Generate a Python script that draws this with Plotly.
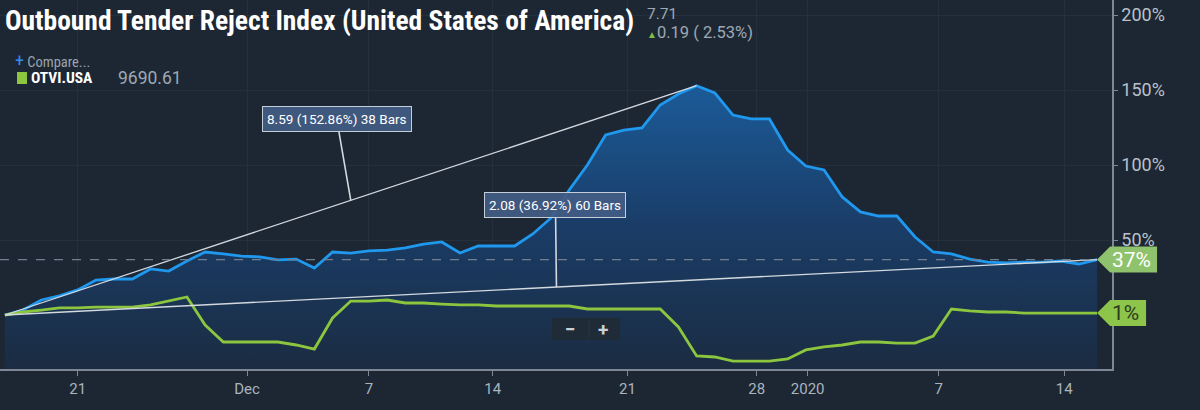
import plotly.graph_objects as go

# Percent change of the index vs. the first bar (one value per bar)
bars = list(range(61))
otvi_pct = [0, 3.3, 10, 12.7, 16.7, 23.3, 24, 24, 30.7, 29.3, 36, 42, 40.7, 39.3, 38.7,
            36.7, 37.3, 31.3, 42, 41.3, 42.7, 43.3, 44.7, 47.3, 48.7, 41.3, 46, 46, 46,
            54, 64.7, 83.3, 100, 120, 123.3, 124.7, 140, 147.3, 152.86, 148, 133.3,
            130.7, 130.7, 110, 99.3, 96.7, 78.7, 68.7, 66, 66, 52, 42, 40.7, 37.3, 35.3,
            34.7, 35.3, 35.3, 36, 34, 36.92]
compare_pct = [0, 2, 3.3, 4.7, 4.7, 5.3, 5.3, 5.3, 6.7, 9.3, 12, -6.7, -18, -18, -18,
               -18, -20, -22.7, -2, 9.3, 9.3, 10, 8, 8, 7.3, 6.7, 6.7, 6, 6, 6, 6, 6,
               4, 4, 4, 4, 4, -8, -27.3, -28, -30.7, -30.7, -30.7, -29.3, -23.3, -21.3,
               -20, -18, -18, -18.7, -18.7, -14, 4, 2.7, 2, 2, 1.3, 1.3, 1.3, 1.3, 1.3]

# x tick labels (positions in bar units)
tick_pos = [4.0, 13.3, 20.0, 26.8, 34.2, 41.3, 44.1, 51.3, 58.2]
tick_text = ['21', 'Dec', '7', '14', '21', '28', '2020', '7', '14']
y_ticks = [50, 100, 150, 200]
y_tick_text = ['50%', '100%', '150%', '200%']

# measurement labels
peak_bar = 38
peak_label = '8.59 (152.86%) 38 Bars'
last_label = '2.08 (36.92%) 60 Bars'

X_RANGE = [-0.27, 60.82]
Y_RANGE = [-36, 210]
PLOT_W, PLOT_H = 1112, 369

BG = '#1d2733'
GRID = '#25303c'
AXIS = '#7d8894'
LABEL = '#aab4be'
BLUE = '#1f98ee'
GREEN = '#8cc63f'
CONDENSED = 'Roboto Condensed, DejaVu Sans Condensed, sans-serif'


def px_x(p):
    """ pixel column inside the plot -> paper x """
    return p / PLOT_W


def px_y(p):
    """ pixel row inside the plot -> paper y """
    return 1 - p / PLOT_H


def paper_x(v):
    return (v - X_RANGE[0]) / (X_RANGE[1] - X_RANGE[0])


def paper_y(v):
    return (v - Y_RANGE[0]) / (Y_RANGE[1] - Y_RANGE[0])


fig = go.Figure()

# invisible floor so the blue area fills down to the x axis
fig.add_trace(go.Scatter(x=bars, y=[Y_RANGE[0]] * len(bars), mode='lines',
                         line=dict(width=0), hoverinfo='skip', showlegend=False))
fig.add_trace(go.Scatter(x=bars, y=otvi_pct, mode='lines', fill='tonexty',
                         fillgradient=dict(type='vertical', start=Y_RANGE[0], stop=150,
                                           colorscale=[[0, '#1b2c42'], [0.5, '#1a3c66'],
                                                       [1, '#1b5a97']]),
                         line=dict(color=BLUE, width=2.8), showlegend=False))
fig.add_trace(go.Scatter(x=bars, y=compare_pct, mode='lines',
                         line=dict(color=GREEN, width=2.8), showlegend=False))

# trend lines drawn from first bar to the peak and to the last bar
for end in [peak_bar, bars[-1]]:
    fig.add_trace(go.Scatter(x=[bars[0], bars[end]], y=[otvi_pct[0], otvi_pct[end]],
                             mode='lines', line=dict(color='#d3d9df', width=1.3),
                             hoverinfo='skip', showlegend=False))

# dashed line at the last value
fig.add_shape(type='line', xref='paper', x0=0, x1=1, yref='y',
              y0=otvi_pct[-1], y1=otvi_pct[-1],
              line=dict(color='#6f7f8f', width=1.2, dash='dash'))

box = dict(bgcolor='rgba(66,92,132,0.92)', bordercolor='#c5cdd6', borderwidth=1,
           borderpad=4, font=dict(family='Roboto', size=13.5, color='white'),
           showarrow=True, arrowhead=0, arrowwidth=1.6, arrowcolor='#d3d9df', standoff=0)
x1 = 19
fig.add_annotation(x=x1, y=otvi_pct[0] + (otvi_pct[peak_bar] - otvi_pct[0]) * x1 / peak_bar,
                   text=peak_label, ax=-14, ay=-81, **box)
x2 = 30.3
fig.add_annotation(x=x2, y=otvi_pct[0] + (otvi_pct[-1] - otvi_pct[0]) * x2 / bars[-1],
                   text=last_label, ax=-1, ay=-82, **box)

# value tags on the right
for val, w, fill, tcol in [(otvi_pct[-1], 60, '#8ec26c', 'white'),
                           (compare_pct[-1], 49, '#8dc44a', '#2c3a20')]:
    fig.add_shape(type='path', xref='paper', yref='paper',
                  xsizemode='pixel', ysizemode='pixel',
                  xanchor=paper_x(bars[-1]), yanchor=paper_y(val),
                  path=f'M0,0 L13,13 L{w},13 L{w},-13 L13,-13 Z',
                  fillcolor=fill, line=dict(width=0))
    fig.add_annotation(xref='paper', yref='paper', x=paper_x(bars[-1]), y=paper_y(val),
                       xanchor='left', yanchor='middle', xshift=13, showarrow=False,
                       text=f'{round(val)}%', font=dict(family='Roboto', size=21, color=tcol))

# zoom control
fig.add_shape(type='rect', xref='paper', yref='paper', x0=px_x(552), x1=px_x(620),
              y0=px_y(340), y1=px_y(318), fillcolor='#202b38', line=dict(width=0))
fig.add_shape(type='line', xref='paper', yref='paper', x0=px_x(589), x1=px_x(589),
              y0=px_y(338), y1=px_y(320), line=dict(color='#2a3542', width=1))
for px, t in [(570, '−'), (603, '+')]:
    fig.add_annotation(xref='paper', yref='paper', x=px_x(px), y=px_y(329), text=f'<b>{t}</b>',
                       xanchor='center', yanchor='middle', showarrow=False,
                       font=dict(family='Roboto', size=19, color='#c9d0d7'))

# header
head = dict(xref='paper', yref='paper', showarrow=False, xanchor='left', yanchor='middle')
fig.add_annotation(x=px_x(3), y=px_y(21),
                   text='<b>Outbound Tender Reject Index (United States of America)</b>',
                   font=dict(family=CONDENSED, size=27.5, color='white'), **head)
fig.add_annotation(x=px_x(645), y=px_y(14), text='7.71',
                   font=dict(family='Roboto', size=15.5, color='#9ea9b4'), **head)
fig.add_annotation(x=px_x(645), y=px_y(32),
                   text="<span style='color:#7cc043;font-size:10px'>▲</span>0.19 ( 2.53%)",
                   font=dict(family='Roboto', size=16.5, color='#9ea9b4'), **head)
fig.add_annotation(x=px_x(13), y=px_y(60),
                   text="<span style='color:#2f8ff0;font-size:18px'>+</span> Compare...",
                   font=dict(family=CONDENSED, size=14.5, color='#9aa4ae'), **head)
fig.add_shape(type='rect', xref='paper', yref='paper', x0=px_x(17), x1=px_x(27),
              y0=px_y(84), y1=px_y(72), fillcolor=GREEN, line=dict(width=0))
fig.add_annotation(x=px_x(29), y=px_y(78), text='<b>OTVI.USA</b>',
                   font=dict(family=CONDENSED, size=15.5, color='white'), **head)
fig.add_annotation(x=px_x(116), y=px_y(78), text='9690.61',
                   font=dict(family='Roboto', size=17.5, color='#9ea9b4'), **head)

fig.update_layout(
    width=1200, height=410,
    margin=dict(l=0, r=1200 - PLOT_W, t=0, b=410 - PLOT_H),
    paper_bgcolor=BG, plot_bgcolor=BG,
    hovermode=False,
    xaxis=dict(range=X_RANGE, tickvals=tick_pos, ticktext=tick_text,
               showline=True, linecolor=AXIS, linewidth=1.5, ticks='outside', ticklen=5,
               tickcolor=AXIS, showgrid=True, gridcolor=GRID, zeroline=False,
               tickfont=dict(family='Roboto', size=15, color=LABEL)),
    yaxis=dict(range=Y_RANGE, side='right', tickvals=y_ticks, ticktext=y_tick_text,
               showline=True, linecolor=AXIS, linewidth=1.5, ticks='outside', ticklen=4,
               tickcolor=AXIS, showgrid=True, gridcolor=GRID, zeroline=False,
               tickfont=dict(family='Roboto', size=18, color='#b8c1ca')),
)

# drop the default page margin so the chart sits at the window corner
fig.write_html('out.html', config={'displayModeBar': False},
               post_script="document.body.style.margin='0';")
